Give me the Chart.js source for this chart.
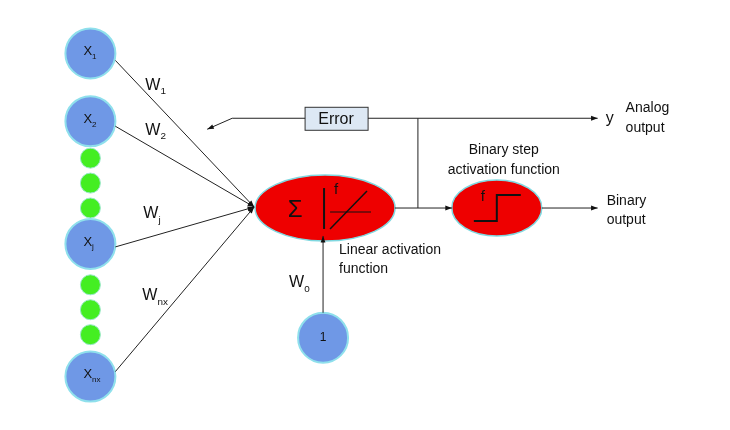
<!DOCTYPE html>
<html>
<head>
<meta charset="utf-8">
<script src="https://cdn.jsdelivr.net/npm/chart.js@4"></script>
<style>
  body { margin: 0; background: #fff; }
  #wrap { width: 730px; height: 430px; }
</style>
</head>
<body>
<div id="wrap"><canvas id="net"></canvas></div>
<script>
// input nodes (x, y) and their labels
const inputX = [90, 90, 90, 90];
const inputY = [53, 121, 244, 377];
const inputLabels = [['X', '1'], ['X', '2'], ['X', 'j'], ['X', 'nx']];
// green ellipsis dots
const dotX = [90, 90, 90, 90, 90, 90];
const dotY = [158, 183, 208, 285, 310, 335];
// weights
const weightLabels = [['W', '1'], ['W', '2'], ['W', 'j'], ['W', 'nx']];
const weightX = [145, 145, 143, 142];
const weightY = [85, 130, 214, 296];
// bias node
const biasX = [323];
const biasY = [338];

// connections: [x1, y1, x2, y2, arrow]
const links = [
  [115, 60, 254, 207, true],
  [115, 126, 254, 207, true],
  [115, 247, 254, 207, true],
  [115, 372, 254, 207, true],
  [395, 208, 452, 208, true],
  [418, 208, 418, 118, false],
  [368, 118, 598, 118, true],
  [305, 118, 232, 118, false],
  [232, 118, 207, 129, true],
  [542, 208, 598, 208, true],
  [323, 313, 323, 236, true]
];

const lineSets = links.map(l => ({
  type: 'line',
  data: [{ x: l[0], y: l[1] }, { x: l[2], y: l[3] }],
  borderColor: '#222',
  borderWidth: 1,
  pointRadius: 0,
  showLine: true
}));

function pts(xs, ys) { return xs.map((x, i) => ({ x: x, y: ys[i] })); }

const diagram = {
  id: 'diagram',
  beforeDatasetsDraw(chart) {
    const c = chart.ctx, sx = chart.scales.x, sy = chart.scales.y;
    const P = (x, y) => [sx.getPixelForValue(x), sy.getPixelForValue(y)];
    c.save();
    // ellipses
    [[325, 208, 70, 33], [497, 208, 45, 28]].forEach(e => {
      const [cx, cy] = P(e[0], e[1]);
      c.beginPath();
      c.ellipse(cx, cy, e[2], e[3], 0, 0, Math.PI * 2);
      c.fillStyle = '#ee0000';
      c.fill();
      c.strokeStyle = '#7fd8e0';
      c.lineWidth = 1.5;
      c.stroke();
    });
    // error box
    let [bx, by] = P(305, 107);
    c.fillStyle = '#dde8f4';
    c.fillRect(bx, by, 63, 23);
    c.strokeStyle = '#333';
    c.lineWidth = 1;
    c.strokeRect(bx, by, 63, 23);
    c.restore();
  },
  afterDatasetsDraw(chart) {
    const c = chart.ctx, sx = chart.scales.x, sy = chart.scales.y;
    const P = (x, y) => [sx.getPixelForValue(x), sy.getPixelForValue(y)];
    c.save();
    // arrowheads
    links.forEach(l => {
      if (!l[4]) return;
      const [x1, y1] = P(l[0], l[1]), [x2, y2] = P(l[2], l[3]);
      const a = Math.atan2(y2 - y1, x2 - x1);
      c.beginPath();
      c.moveTo(x2, y2);
      c.lineTo(x2 - 7 * Math.cos(a - 0.35), y2 - 7 * Math.sin(a - 0.35));
      c.lineTo(x2 - 7 * Math.cos(a + 0.35), y2 - 7 * Math.sin(a + 0.35));
      c.closePath();
      c.fillStyle = '#111';
      c.fill();
    });
    // activation symbols
    c.strokeStyle = '#111';
    c.lineWidth = 2;
    const seg = (a, b, d, e) => {
      const [p, q] = P(a, b), [r, s] = P(d, e);
      c.beginPath(); c.moveTo(p, q); c.lineTo(r, s); c.stroke();
    };
    seg(324, 188, 324, 229);
    c.lineWidth = 1;
    seg(330, 212, 371, 212);
    c.lineWidth = 1.5;
    seg(330, 229, 367, 191);
    c.lineWidth = 2;
    c.beginPath();
    let p = P(474, 221); c.moveTo(p[0], p[1]);
    p = P(497, 221); c.lineTo(p[0], p[1]);
    p = P(497, 195); c.lineTo(p[0], p[1]);
    p = P(521, 195); c.lineTo(p[0], p[1]);
    c.stroke();

    const txt = (s, x, y, size, align) => {
      const [px, py] = P(x, y);
      c.font = size + 'px Arial, "Liberation Sans", sans-serif';
      c.textAlign = align || 'left';
      c.textBaseline = 'middle';
      c.fillStyle = '#111';
      c.fillText(s, px, py);
    };
    const sub = (pair, x, y, size) => {
      txt(pair[0], x, y, size);
      const w = c.measureText(pair[0]).width;
      txt(pair[1], x + w, y + size * 0.4, size * 0.62);
    };
    txt('\u03A3', 295, 210, 24, 'center');
    txt('f', 336, 190, 15, 'center');
    txt('f', 483, 197, 15, 'center');
    inputLabels.forEach((l, i) => sub(l, inputX[i] - 7, inputY[i] - 2, 13));
    txt('1', biasX[0], biasY[0], 12, 'center');
    weightLabels.forEach((l, i) => sub(l, weightX[i], weightY[i], 16));
    sub(['W', '0'], 289, 283, 16);
    txt('Error', 336, 119, 16, 'center');
    txt('y', 606, 118, 16);
    txt('Analog', 626, 108, 14);
    txt('output', 626, 128, 14);
    txt('Binary step', 504, 150, 14, 'center');
    txt('activation function', 504, 170, 14, 'center');
    txt('Binary', 607, 201, 14);
    txt('output', 607, 220, 14);
    txt('Linear activation', 339, 250, 14);
    txt('function', 339, 269, 14);
    c.restore();
  }
};

new Chart(document.getElementById('net'), {
  type: 'scatter',
  data: {
    datasets: lineSets.concat([
      {
        data: pts(inputX, inputY),
        pointRadius: 25,
        backgroundColor: '#6f98e6',
        borderColor: '#8fe0ec',
        borderWidth: 2
      },
      {
        data: pts(biasX, biasY),
        pointRadius: 25,
        backgroundColor: '#6f98e6',
        borderColor: '#8fe0ec',
        borderWidth: 2
      },
      {
        data: pts(dotX, dotY),
        pointRadius: 10,
        backgroundColor: '#44ee22',
        borderColor: '#9ae8c8',
        borderWidth: 1
      }
    ])
  },
  options: {
    responsive: true,
    maintainAspectRatio: false,
    animation: false,
    layout: { padding: 0 },
    plugins: { legend: { display: false }, tooltip: { enabled: false } },
    scales: {
      // chart area is inset ~26.5px by point-radius padding; match value range to pixels
      x: { type: 'linear', min: 26.5, max: 703.5, display: false },
      y: { type: 'linear', min: 26.5, max: 403.5, reverse: true, display: false }
    }
  },
  plugins: [diagram]
});
</script>
</body>
</html>
